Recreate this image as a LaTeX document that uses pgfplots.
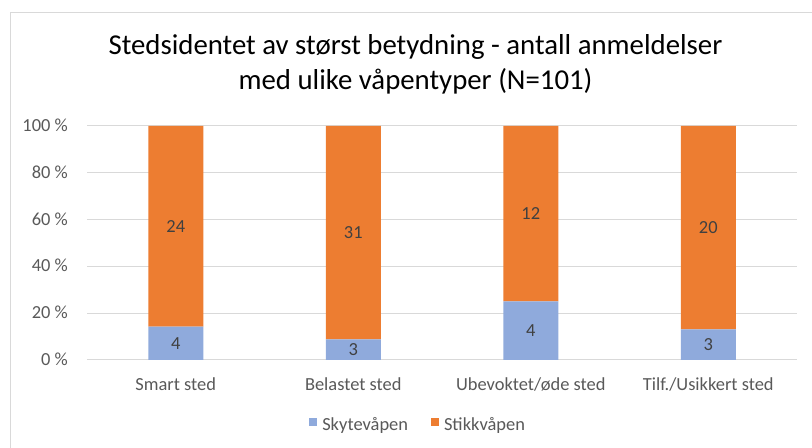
\documentclass[border=0pt]{standalone}
\usepackage{fontspec}
\setmainfont{Carlito}
\usepackage{pgfplots}
\pgfplotsset{compat=1.18}
\usepackage{pgfplotstable}
\definecolor{skyc}{HTML}{8FAADC}
\definecolor{stikkc}{HTML}{ED7D31}
\definecolor{gridc}{HTML}{D9D9D9}
\definecolor{tickc}{HTML}{595959}
\definecolor{labc}{HTML}{404040}

% percentages of each bar and the counts shown on the segments
\pgfplotstableread{
x sky stikk nsky nstikk
0 14.29 85.71 4 24
1 8.82 91.18 3 31
2 25.00 75.00 4 12
3 13.04 86.96 3 20
}\data

\newcommand\lblfont{\fontsize{18.5}{22}\selectfont}

\begin{document}
\begin{tikzpicture}[x=1bp,y=1bp]
\path[use as bounding box] (0,0) rectangle (812,448);
\begin{scope}
\clip (0,0) rectangle (812,448);
\draw[gridc, line width=1.3bp] (10.5,435.5) rectangle (900,-50);
\end{scope}
\node[font=\fontsize{28.9}{34}\selectfont, anchor=base, text=black, inner sep=0pt] at (415.5,393) {Stedsidentet av størst betydning - antall anmeldelser};
\node[font=\fontsize{28.9}{34}\selectfont, anchor=base, text=black, inner sep=0pt] at (415.5,358.5) {med ulike våpentyper (N=101)};

\begin{axis}[
  at={(87bp,88bp)}, anchor=south west,
  scale only axis, width=710bp, height=234bp,
  ybar stacked, bar width=55bp,
  xmin=-0.5, xmax=3.5, ymin=0, ymax=100,
  axis line style={draw=none},
  major tick length=0pt,
  ymajorgrids, grid style={gridc, line width=1bp},
  xtick={0,1,2,3},
  xticklabels={Smart sted, Belastet sted, Ubevoktet/øde sted, Tilf./Usikkert sted},
  ytick={0,20,40,60,80,100},
  yticklabels={0 \%, 20 \%, 40 \%, 60 \%, 80 \%, 100 \%},
  ticklabel style={font=\lblfont, text=tickc, inner sep=0pt},
  xticklabel style={anchor=base, yshift=-31bp},
  yticklabel style={anchor=base east, xshift=-19bp, yshift=-5.5bp},
  legend columns=2,
  legend style={draw=none, font=\lblfont, text=tickc, at={(0.466,-0.278)}, anchor=center,
    /tikz/every even column/.append style={column sep=20.5bp}},
  legend image code/.code={\fill[#1] (0bp,-1bp) rectangle (8.5bp,7.5bp); \path (11.5bp,0bp);},
]
\addplot[fill=skyc, draw=none] table[x=x, y=sky]{\data};
\addlegendentry{Skytevåpen}
\addplot[fill=stikkc, draw=none] table[x=x, y=stikk]{\data};
\addlegendentry{Stikkvåpen}
\end{axis}

\begin{axis}[
  at={(87bp,88bp)}, anchor=south west,
  scale only axis, width=710bp, height=234bp,
  xmin=-0.5, xmax=3.5, ymin=0, ymax=100,
  hide axis, clip=false,
  every node near coord/.append style={anchor=center, font=\lblfont, text=labc, inner sep=0pt},
]
\addplot[draw=none, mark=none, nodes near coords, point meta=explicit symbolic]
  table[x=x, y expr=\thisrow{sky}/2, meta=nsky]{\data};
\addplot[draw=none, mark=none, nodes near coords, point meta=explicit symbolic]
  table[x=x, y expr=\thisrow{sky}+\thisrow{stikk}/2, meta=nstikk]{\data};
\end{axis}
\end{tikzpicture}
\end{document}
